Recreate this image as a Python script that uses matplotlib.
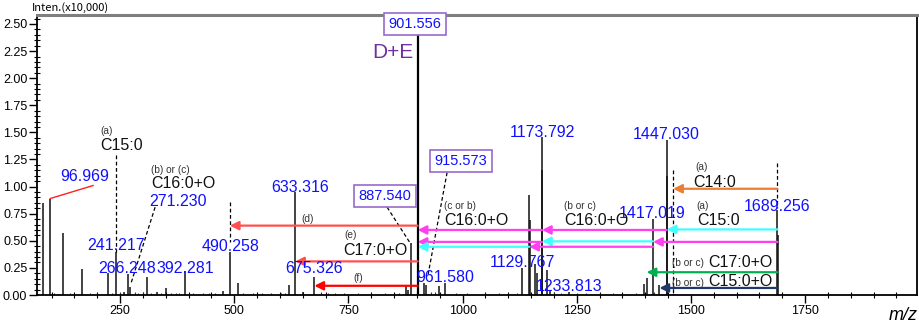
import matplotlib
matplotlib.use("Agg")
import matplotlib.pyplot as plt
from matplotlib.ticker import MultipleLocator, FixedLocator, FuncFormatter

plt.rcParams['font.family'] = ['Liberation Sans', 'DejaVu Sans']

# ---- spectrum peaks (m/z, intensity x10,000) ----
peak_mz = [81.4, 96.969, 125.2, 166.8, 223.7, 241.217, 258.5, 266.248, 271.230,
           309.0, 330.0, 350.7, 392.281, 475.5, 490.258, 508.4, 620.0, 633.316,
           650.7, 675.326, 876.0, 880.6, 887.540, 901.556, 902.560, 915.573, 920.0,
           948.5, 961.580, 1129.767, 1145.75, 1146.75, 1158.7, 1163.0, 1173.792,
           1174.795, 1185.0, 1191.0, 1233.813, 1397.0, 1403.0, 1417.019, 1431.0,
           1447.030, 1448.033, 1689.256, 1690.260]
peak_int = [0.85, 0.89, 0.57, 0.24, 0.20, 0.40, 0.03, 0.19, 0.07,
            0.17, 0.03, 0.06, 0.22, 0.04, 0.40, 0.11, 0.09, 0.95,
            0.03, 0.17, 0.08, 0.05, 0.48, 2.54, 1.34, 0.11, 0.09,
            0.08, 0.11, 0.25, 0.92, 0.69, 0.29, 0.20, 1.46,
            1.15, 0.23, 0.05, 0.03, 0.10, 0.16, 0.70, 0.09,
            1.43, 1.10, 0.78, 0.55]

# small baseline peaks
noise_mz = [105, 140, 185, 200, 232, 250, 282, 290, 300, 318, 340, 362, 372,
            380, 410, 432, 445, 458, 520, 540, 560, 580, 602, 612, 690, 705,
            720, 740, 770, 800, 830, 860, 930, 940, 985, 1010, 1050, 1080,
            1100, 1120, 1200, 1215, 1250, 1270, 1300, 1330, 1380, 1420, 1460]
noise_int = [0.02, 0.015, 0.02, 0.015, 0.02, 0.03, 0.03, 0.02, 0.025, 0.02,
             0.015, 0.02, 0.015, 0.02, 0.02, 0.015, 0.015, 0.02, 0.02, 0.015,
             0.02, 0.015, 0.02, 0.02, 0.03, 0.02, 0.015, 0.02, 0.015, 0.02,
             0.015, 0.02, 0.03, 0.03, 0.02, 0.015, 0.015, 0.02, 0.015, 0.02,
             0.03, 0.02, 0.015, 0.02, 0.015, 0.015, 0.02, 0.03, 0.02]

# ---- peak value labels (text, m/z of label centre, height of label centre) ----
label_text = ["1173.792", "1447.030", "1689.256", "1417.019", "633.316",
              "96.969", "271.230", "241.217", "266.248", "392.281", "490.258",
              "675.326", "961.580", "1129.767", "1233.813"]
label_mz = [1174, 1445.5, 1688.6, 1414.9, 644.1, 173.4, 377.0, 241.2, 265.3,
            392.3, 490.9, 674.8, 961.6, 1130.2, 1233.1]
label_y = [1.50, 1.485, 0.82, 0.756, 0.996, 1.089, 0.858, 0.461, 0.249,
           0.249, 0.452, 0.24, 0.166, 0.304, 0.083]

boxed_text = ["901.556", "915.573", "887.540"]
boxed_mz = [896.0, 996.7, 830.3]
boxed_y = [2.50, 1.236, 0.913]

# ---- neutral-loss arrows (from m/z, to m/z, level, colour) ----
arrow_from = [901.556, 901.556, 901.556,
              1173.792, 1447.030, 1689.256,
              1689.256, 1417.019, 1173.792,
              1417.019, 1145.75,
              1689.256, 1689.256, 1689.256]
arrow_to = [490.258, 633.316, 675.326,
            901.556, 1173.792, 1447.030,
            1417.019, 1173.792, 901.556,
            1145.75, 901.556,
            1403.0, 1431.0, 1461.0]
arrow_y = [0.64, 0.31, 0.085,
           0.60, 0.60, 0.605,
           0.49, 0.495, 0.49,
           0.445, 0.445,
           0.21, 0.065, 0.98]
arrow_color = ['#ff5050', '#ff5050', '#ff0000',
               '#ff40f0', '#ff40f0', '#40ffff',
               '#ff40f0', '#40ffff', '#ff40f0',
               '#ff40f0', '#40ffff',
               '#00b050', '#1f3a6a', '#ed7d31']

# ---- fragment names: (small tag, tag pos, name, name pos) ----
tag_text = ["(a)", "(b) or (c)", "(d)", "(e)", "(f)", "(c or b)", "(b or c)",
            "(a)", "(a)", "(b or c)", "(b or c)"]
tag_mz = [219.3, 359.5, 659.5, 753.6, 771.0, 994.5, 1257.2, 1524.4, 1522.2,
          1493.8, 1493.8]
tag_y = [1.513, 1.153, 0.70, 0.553, 0.157, 0.821, 0.821, 0.821, 1.18,
         0.295, 0.11]
name_text = ["C15:0", "C16:0+O", "C17:0+O", "C16:0+O", "C16:0+O", "C15:0",
             "C14:0", "C17:0+O", "C15:0+O"]
name_mz = [252.2, 388.0, 808.4, 1029.5, 1292.3, 1559.4, 1552.8, 1607.6, 1607.6]
name_y = [1.375, 1.024, 0.406, 0.683, 0.683, 0.683, 1.042, 0.304, 0.12]

fig = plt.figure(figsize=(9.2, 3.26), dpi=100)
ax = fig.add_axes([37 / 920, 31 / 326, 880 / 920, 280 / 326])
ax.set_xlim(68, 1995)
ax.set_ylim(0, 2.583)

# spectrum
ax.vlines(noise_mz, 0, noise_int, color='#333333', lw=0.8)
ax.vlines(peak_mz, 0, peak_int, color='#111111', lw=1.1)
ax.vlines([901.556], 0, [2.54], color='black', lw=1.6)

# guide lines
dash = dict(color='black', lw=0.9, ls=(0, (3, 2)))
ax.plot([241.217, 241.217], [1.29, 0.40], **dash)
ax.plot([490.258, 490.258], [0.86, 0.49], **dash)
ax.plot([1461.0, 1461.0], [1.15, 0.0], **dash)
ax.plot([1689.256, 1689.256], [1.22, 0.80], **dash)
ax.plot([326.6, 274.0], [0.81, 0.11], **dash)
ax.plot([834.6, 885.0], [0.81, 0.48], **dash)
ax.plot([966.0, 924.0], [1.13, 0.18], **dash)
ax.plot([96.969, 190.9], [0.89, 1.01], color='#ff2020', lw=1.0)

# arrows
for x0, x1, yv, c in zip(arrow_from, arrow_to, arrow_y, arrow_color):
    ax.annotate('', xy=(x1, yv), xytext=(x0, yv),
                arrowprops=dict(arrowstyle='-|>', color=c, lw=1.6,
                                mutation_scale=13, shrinkA=0, shrinkB=0))

# labels
num_font = ['Liberation Sans Narrow', 'Liberation Sans']
for t, x, yv in zip(label_text, label_mz, label_y):
    ax.text(x, yv, t, color='#1010ff', fontsize=11.5, family=num_font,
            ha='center', va='center')
for t, x, yv in zip(boxed_text, boxed_mz, boxed_y):
    ax.text(x, yv, t, color='#1010ff', fontsize=10.5, ha='center', va='center',
            bbox=dict(boxstyle='square,pad=0.3', fc='white', ec='#9a6acb', lw=1.2))
ax.text(847.8, 2.24, 'D+E', color='#7030a0', fontsize=15, ha='center', va='center')

for t, x, yv in zip(tag_text, tag_mz, tag_y):
    ax.text(x, yv, t, color='#333333', fontsize=7.3, ha='center', va='center')
for t, x, yv in zip(name_text, name_mz, name_y):
    ax.text(x, yv, t, color='#111111', fontsize=11.5, ha='center', va='center')

# axes styling
for s in ['left', 'bottom', 'right']:
    ax.spines[s].set_color('black')
    ax.spines[s].set_linewidth(1.3)
ax.spines['top'].set_color('#7f7f7f')
ax.spines['top'].set_linewidth(2.2)

ax.xaxis.set_major_locator(FixedLocator([250, 500, 750, 1000, 1250, 1500, 1750]))
ax.xaxis.set_minor_locator(MultipleLocator(50))
ax.yaxis.set_major_locator(MultipleLocator(0.25))
ax.yaxis.set_minor_locator(MultipleLocator(0.05))
ax.yaxis.set_major_formatter(FuncFormatter(lambda v, p: f"{v:.2f}"))
ax.tick_params(axis='both', which='major', direction='out', length=6, width=1,
               labelsize=9, colors='black')
ax.tick_params(axis='both', which='minor', direction='inout', length=4, width=0.8)
ax.tick_params(axis='x', pad=1)
ax.tick_params(axis='y', pad=1)

fig.text(32 / 920, 1 - 8 / 326, 'Inten.(x10,000)', fontsize=8, ha='left',
         va='center', family=['Noto Sans CJK JP', 'DejaVu Sans'])
fig.text(918 / 920, 1 - 316 / 326, 'm/z', fontsize=13, style='italic',
         ha='right', va='center')

fig.savefig('out.png', dpi=100)
